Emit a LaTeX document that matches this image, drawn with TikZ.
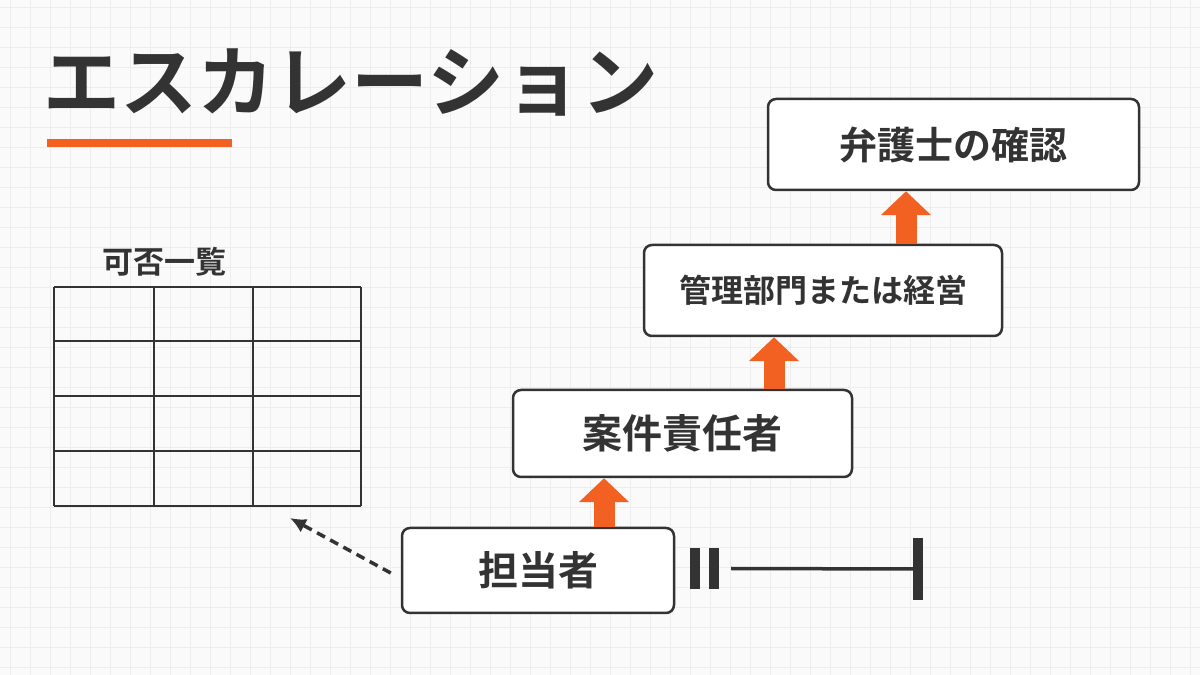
\documentclass[tikz,border=0pt]{standalone}
\usepackage{fontspec}
\setmainfont{Noto Sans CJK JP}[BoldFont={Noto Sans CJK JP Bold}]
\usetikzlibrary{arrows.meta}
\definecolor{ink}{HTML}{333333}
\definecolor{accent}{HTML}{F26122}
\definecolor{paper}{HTML}{FAFAFA}
\definecolor{gridline}{HTML}{EDEDED}
\newcommand{\boxfs}[1]{\fontsize{#1}{#1}\selectfont}
\begin{document}
\begin{tikzpicture}[x=1pt, y=1pt, every node/.style={text=ink, inner sep=0pt}, stage/.style={draw=ink, line width=2.5pt, rounded corners=8pt, fill=white}, upstep/.style={draw=accent, fill=accent, line width=21pt, -{Triangle[length=24pt, width=49pt]}}, hint/.style={draw=ink, line width=3.5pt, dash pattern=on 9pt off 6pt, -{Latex[length=16pt, width=15pt]}}, cell/.style={draw=ink, line width=1.4pt}, bar/.style={fill=ink, minimum width=10pt}]
	\useasboundingbox (0,0) rectangle (1200,675);
	\fill[paper] (0,0) rectangle (1200,675);
	\draw[gridline, line width=0.6pt, step=20pt, xshift=10pt, yshift=8pt] (-20,-20) grid (1220,695);
		\node[font=\bfseries\boxfs{77}] (title) at (351, 592) {エスカレーション};
		\draw[accent, line width=8pt] (47,532) -- (232,532);
		\node[font=\bfseries\boxfs{31}] (label) at (164, 413) {可否一覧};
		\foreach \x in {54,154,253,361} \draw[cell] (\x,169) -- (\x,388);
		\foreach \y in {169,224,279,334,388} \draw[cell] (54,\y) -- (361,\y);
		\coordinate (tbl) at (290,157);
		\node[stage, minimum width=272pt, minimum height=85pt, font=\bfseries\boxfs{40}] (1) at (538, 104.5) {担当者};
		\node[stage, minimum width=339pt, minimum height=87pt, font=\bfseries\boxfs{40}] (2) at (682.5, 241.5) {案件責任者};
		\node[stage, minimum width=358pt, minimum height=91pt, font=\bfseries\boxfs{32}] (3) at (823, 384.5) {管理部門または経営};
		\node[stage, minimum width=371pt, minimum height=91pt, font=\bfseries\boxfs{38}] (4) at (953.5, 530.5) {弁護士の確認};
		\draw[upstep] ([xshift=66pt]1.north) -- ([xshift=-78.5pt]2.south);
		\draw[upstep] ([xshift=91.5pt]2.north) -- ([xshift=-49pt]3.south);
		\draw[upstep] ([xshift=83pt]3.north) -- ([xshift=-47.5pt]4.south);
		\draw[hint] ([xshift=-10pt, yshift=-2.5pt]1.west) -- (tbl);
		\node[bar, minimum height=41pt] (pa) at (694.5, 106.5) {};
		\node[bar, minimum height=41pt] (pb) at (714, 106.5) {};
		\node[bar, minimum height=62pt] (stop) at (918, 106) {};
		\draw[ink, line width=3.5pt] ([xshift=12pt]pb.east) -- (stop.west);
	\end{tikzpicture}
\end{document}
